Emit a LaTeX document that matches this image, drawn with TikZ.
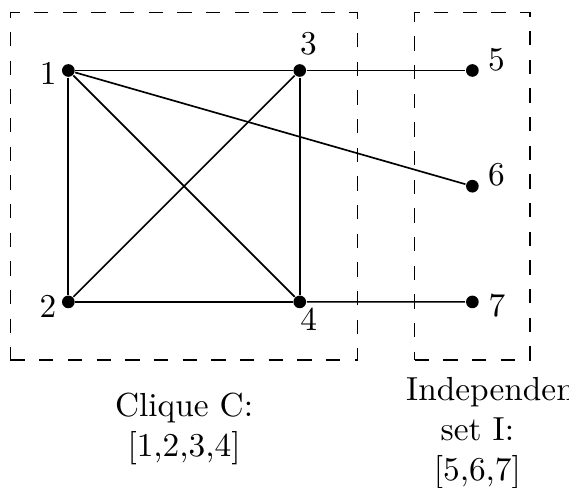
\documentclass[tikz,border=0pt]{standalone}
\usetikzlibrary{positioning,fit}
\begin{document}
\begin{tikzpicture}[
  line width=0.5pt,
  vtx/.style={circle, fill, inner sep=0pt, minimum size=3.8pt},
  lbl/.style={inner sep=0pt},
  grp/.style={draw, dash pattern=on 4.3pt off 4.3pt, inner sep=15.2pt},
  grptxt/.style={text width=1.5cm, align=center},
  node distance=2.44cm and 2.44cm, on grid
]
\useasboundingbox (-20.5pt,21.15pt) rectangle (150.2pt,-125.25pt);

% vertices
\node[vtx] (v1) {};
\node[vtx, right=of v1] (v3) {};
\node[vtx, below=of v1] (v2) {};
\node[vtx, below=of v3] (v4) {};
\node[vtx, right=1.82cm of v3] (v5) {};
\node[vtx, below=1.22cm of v5] (v6) {};
\node[vtx, below=1.22cm of v6] (v7) {};

% vertex labels
\node[lbl, left=6pt of v1, yshift=-0.85pt] (t1) {1};
\node[lbl, left=6.1pt of v2, yshift=-1.2pt] (t2) {2};
\node[lbl, right=2.6pt of v3, yshift=7.9pt] (t3) {3};
\node[lbl, right=2.7pt of v4, yshift=-5.25pt] (t4) {4};
\node[lbl, right=7.2pt of v5, yshift=3.2pt] (t5) {5};
\node[lbl, right=7.2pt of v6, yshift=3.3pt] (t6) {6};
\node[lbl, right=7.35pt of v7, yshift=-1pt] (t7) {7};

% edges
\draw (v1) -- (v3);
\draw (v1) -- (v2);
\draw (v1) -- (v4);
\draw (v1) -- (v6);
\draw (v2) -- (v3);
\draw (v2) -- (v4);
\draw (v3) -- (v4);
\draw (v3) -- (v5);
\draw (v4) -- (v7);

% groups
\node[grp, fit=(v1)(v4)] (clq) {};
\node[grp, fit=(v5)(v7)] (ind) {};
\node[grptxt, below=20.5pt of clq.south, anchor=center] (clqtxt) {Clique C: [1,2,3,4]};
\node[grptxt, below=21.8pt of ind.south, anchor=center, xshift=1.5pt] (indtxt) {Independent set I: [5,6,7]};
\end{tikzpicture}
\end{document}
